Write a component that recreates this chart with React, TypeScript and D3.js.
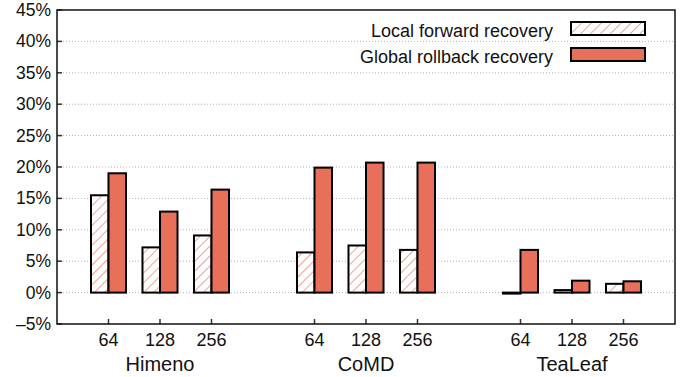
import React from "react";
import * as d3 from "d3";

// data (percent overhead)
const groups = ["Himeno", "CoMD", "TeaLeaf"];
const sizes = ["64", "128", "256"];
const localForward = [15.5, 7.2, 9.1, 6.4, 7.5, 6.8, -0.15, 0.4, 1.4];
const globalRollback = [19.0, 12.9, 16.4, 19.9, 20.7, 20.7, 6.8, 1.9, 1.8];
const yTicks = [-5, 0, 5, 10, 15, 20, 25, 30, 35, 40, 45];
const seriesNames = ["Local forward recovery", "Global rollback recovery"];

const W = 683;
const H = 377;
const margin = { top: 10, right: 8, bottom: 53, left: 57 };
const FILL = "#e8705a";
const FONT = "'Liberation Sans', Arial, Helvetica, sans-serif";

const App = () => {
  const x = d3
    .scaleLinear()
    .domain([-1, 11])
    .range([margin.left, W - margin.right]);
  const y = d3
    .scaleLinear()
    .domain([-5, 45])
    .range([H - margin.bottom, margin.top]);

  const barW = (x(1) - x(0)) * 0.34;

  // slot index of each bar pair: groups separated by one empty slot
  const slots = groups.flatMap((g, gi) => sizes.map((s, si) => gi * 4 + si));

  return (
    <svg
      width={W}
      height={H}
      style={{ position: "absolute", left: 0, top: 0, background: "#fff" }}
      fontFamily={FONT}
    >
      <defs>
        <pattern
          id="hatch"
          patternUnits="userSpaceOnUse"
          width={7}
          height={7}
          patternTransform="rotate(45)"
        >
          <rect width={7} height={7} fill="#fff" />
          <line x1={0} y1={0} x2={0} y2={7} stroke={FILL} strokeWidth={1.3} />
        </pattern>
      </defs>

      {/* grid lines */}
      {yTicks
        .filter((t) => t > -5 && t < 45)
        .map((t) => (
          <line
            key={"g" + t}
            x1={margin.left}
            x2={W - margin.right}
            y1={y(t)}
            y2={y(t)}
            stroke="#b0b0b0"
            strokeWidth={1}
            strokeDasharray="1,2"
          />
        ))}

      {/* y ticks and labels */}
      {yTicks.map((t) => (
        <g key={"y" + t}>
          <line
            x1={margin.left}
            x2={margin.left + 5}
            y1={y(t)}
            y2={y(t)}
            stroke="#333"
            strokeWidth={1.5}
          />
          <text
            x={51}
            y={y(t) + 6}
            textAnchor="end"
            fontSize={17.5}
            fill="#111"
          >
            {t < 0 ? "\u2013" + Math.abs(t) + "%" : t + "%"}
          </text>
        </g>
      ))}

      {/* bars */}
      {slots.map((s, i) => {
        const v1 = localForward[i];
        const v2 = globalRollback[i];
        return (
          <g key={"b" + i}>
            <rect
              x={x(s) - barW}
              y={y(Math.max(0, v1))}
              width={barW}
              height={Math.max(1, Math.abs(y(v1) - y(0)))}
              fill="url(#hatch)"
              stroke="#000"
              strokeWidth={2}
            />
            <rect
              x={x(s)}
              y={y(Math.max(0, v2))}
              width={barW}
              height={Math.abs(y(v2) - y(0))}
              fill={FILL}
              stroke="#000"
              strokeWidth={2}
            />
          </g>
        );
      })}

      {/* x ticks and labels */}
      {slots.map((s, i) => (
        <g key={"x" + i}>
          <line
            x1={x(s)}
            x2={x(s)}
            y1={H - margin.bottom}
            y2={H - margin.bottom - 5}
            stroke="#333"
            strokeWidth={1.5}
          />
          <text
            x={x(s)}
            y={346}
            textAnchor="middle"
            fontSize={18}
            fill="#111"
          >
            {sizes[i % 3]}
          </text>
        </g>
      ))}
      {groups.map((g, gi) => (
        <text
          key={g}
          x={x(gi * 4 + 1)}
          y={371}
          textAnchor="middle"
          fontSize={20}
          fill="#111"
        >
          {g}
        </text>
      ))}

      {/* legend */}
      {seriesNames.map((n, i) => (
        <g key={n}>
          <text
            x={553}
            y={37 + i * 26}
            textAnchor="end"
            fontSize={18}
            fill="#111"
          >
            {n}
          </text>
          <rect
            x={571}
            y={22 + i * 26}
            width={74}
            height={13}
            fill={i === 0 ? "url(#hatch)" : FILL}
            stroke="#000"
            strokeWidth={2}
          />
        </g>
      ))}

      {/* frame */}
      <rect
        x={margin.left}
        y={margin.top}
        width={W - margin.left - margin.right}
        height={H - margin.top - margin.bottom}
        fill="none"
        stroke="#111"
        strokeWidth={1.5}
      />
    </svg>
  );
};

export default App;
